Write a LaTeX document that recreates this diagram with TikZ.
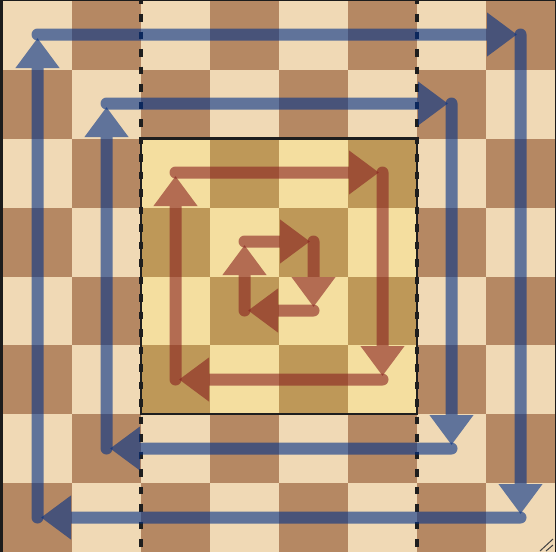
\documentclass[tikz,border=0pt]{standalone}
\usetikzlibrary{arrows.meta}
\definecolor{bgdark}{HTML}{1C1C1C}
\definecolor{sqlight}{HTML}{F0D9B5}
\definecolor{sqdark}{HTML}{B58863}
\definecolor{hllight}{HTML}{F4DE9F}
\definecolor{hldark}{HTML}{BE9858}
\definecolor{arblue}{HTML}{003088}
\definecolor{arred}{HTML}{882020}
\definecolor{lineblack}{HTML}{1E1E1E}
\tikzset{
  arrowline/.style={line width=12pt, line cap=round, shorten >=3.5pt,
    -{Triangle[length=30pt,width=42pt]}},
  bluearrow/.style={arrowline, draw=arblue, fill=arblue},
  redarrow/.style={arrowline, draw=arred, fill=arred},
  guide/.style={lineblack, line width=3.5pt, dash pattern=on 7.5pt off 10pt, dash phase=3.5pt},
  zonebox/.style={draw=lineblack, line width=2.5pt},
  handle/.style={draw=black!75, line width=1pt}
}
\newcommand{\arw}[3]{\begin{scope}[transparency group, opacity=0.6]\draw[#1] (#2) -- (#3);\end{scope}}
\begin{document}
\begin{tikzpicture}[x=1pt,y=-1pt]
\useasboundingbox (0,0) rectangle (556,552);
\fill[bgdark] (0,0) rectangle (556,552);
% board
\foreach \c in {0,...,7}{
  \foreach \r in {0,...,7}{
    \pgfmathtruncatemacro{\parity}{mod(\c+\r,2)}
    \pgfmathtruncatemacro{\hl}{(\c>1 && \c<6 && \r>1 && \r<6) ? 1 : 0}
    \ifnum\parity=0
      \ifnum\hl=1 \def\col{hllight}\else\def\col{sqlight}\fi
    \else
      \ifnum\hl=1 \def\col{hldark}\else\def\col{sqdark}\fi
    \fi
    \fill[\col] ({3+69*\c},{1+68.875*\r}) rectangle ({3+69*(\c+1)},{1+68.875*(\r+1)});
  }
}
% guides
\coordinate (g1t) at (141,0); \coordinate (g1b) at (141,552);
\coordinate (g2t) at (417,0); \coordinate (g2b) at (417,552);
\draw[guide] (g1t) -- (g1b);
\draw[guide] (g2t) -- (g2b);
\draw[zonebox] (141,138.5) rectangle (417,414);
% squares centres
\foreach \n/\x/\y in {a/37.5/34.5, b/520.5/34.5, c/520.5/517.5, d/37.5/517.5,
  e/106.5/103.5, f/451.5/103.5, g/451.5/448.5, h/106.5/448.5,
  i/175.5/172.5, j/382.5/172.5, k/382.5/379.5, l/175.5/379.5,
  m/244.5/241.5, n/313.5/241.5, o/313.5/310.5, p/244.5/310.5}{
  \coordinate (\n) at (\x,\y);
}
% blue outer
\arw{bluearrow}{a}{b}
\arw{bluearrow}{b}{c}
\arw{bluearrow}{c}{d}
\arw{bluearrow}{d}{a}
% blue inner
\arw{bluearrow}{e}{f}
\arw{bluearrow}{f}{g}
\arw{bluearrow}{g}{h}
\arw{bluearrow}{h}{e}
% red
\arw{redarrow}{i}{j}
\arw{redarrow}{j}{k}
\arw{redarrow}{k}{l}
\arw{redarrow}{l}{i}
\arw{redarrow}{m}{n}
\arw{redarrow}{n}{o}
\arw{redarrow}{o}{p}
\arw{redarrow}{p}{m}
% resize handle
\coordinate (h1a) at (540,551); \coordinate (h1b) at (553,539);
\coordinate (h2a) at (546,551); \coordinate (h2b) at (553,545);
\draw[handle] (h1a) -- (h1b);
\draw[handle] (h2a) -- (h2b);
\end{tikzpicture}
\end{document}
